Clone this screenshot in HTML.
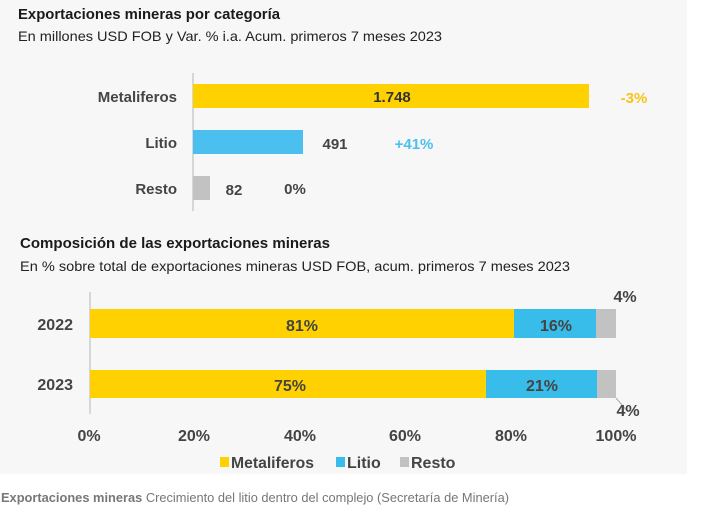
<!DOCTYPE html>
<html><head><meta charset="utf-8"><style>
body{margin:0;background:#fff;}
svg{display:block;font-family:"Liberation Sans",sans-serif;}
</style></head><body>
<svg width="709" height="518" viewBox="0 0 709 518">
<rect x="0" y="0" width="687" height="474" fill="#f7f7f7"/>
<text x="18" y="19" font-size="15" font-weight="bold" fill="#1a1a1a" textLength="262" lengthAdjust="spacingAndGlyphs">Exportaciones mineras por categoría</text>
<text x="18" y="41" font-size="14" fill="#222" textLength="424" lengthAdjust="spacingAndGlyphs">En millones USD FOB y Var. % i.a. Acum. primeros 7 meses 2023</text>
<line x1="193" y1="73" x2="193" y2="211" stroke="#ccc" stroke-width="1.5"/>
<rect x="193" y="84" width="396" height="24" fill="#FFD100"/>
<rect x="193" y="130" width="110" height="24" fill="#4BC0F0"/>
<rect x="193" y="176" width="17" height="24" fill="#c2c2c2"/>
<g font-size="15" font-weight="bold" fill="#444">
<text x="177" y="102" text-anchor="end">Metaliferos</text>
<text x="177" y="148" text-anchor="end">Litio</text>
<text x="177" y="194" text-anchor="end">Resto</text>
<text x="392" y="102" text-anchor="middle" fill="#333">1.748</text>
<text x="335" y="149" text-anchor="middle">491</text>
<text x="234" y="195" text-anchor="middle">82</text>
<text x="295" y="194" text-anchor="middle">0%</text>
<text x="634" y="103" text-anchor="middle" fill="#F5C518">-3%</text>
<text x="414" y="149" text-anchor="middle" fill="#4BC0F0">+41%</text>
</g>
<text x="20" y="248" font-size="15" font-weight="bold" fill="#1a1a1a" textLength="310" lengthAdjust="spacingAndGlyphs">Composición de las exportaciones mineras</text>
<text x="20" y="271" font-size="14" fill="#222" textLength="550" lengthAdjust="spacingAndGlyphs">En % sobre total de exportaciones mineras USD FOB, acum. primeros 7 meses 2023</text>
<line x1="90" y1="292" x2="90" y2="414" stroke="#ccc" stroke-width="1.5"/>
<rect x="90" y="309" width="424" height="29" fill="#FFD100"/>
<rect x="514" y="309" width="82" height="29" fill="#38BDEB"/>
<rect x="596" y="309" width="20" height="29" fill="#c2c2c2"/>
<rect x="90" y="370" width="396" height="28" fill="#FFD100"/>
<rect x="486" y="370" width="111" height="28" fill="#38BDEB"/>
<rect x="597" y="370" width="19" height="28" fill="#c2c2c2"/>
<line x1="616" y1="398" x2="628" y2="412" stroke="#aaa"/>
<g font-size="16" font-weight="bold" fill="#444">
<text x="73" y="330" text-anchor="end">2022</text>
<text x="73" y="390" text-anchor="end">2023</text>
<text x="302" y="331" text-anchor="middle">81%</text>
<text x="556" y="331" text-anchor="middle">16%</text>
<text x="290" y="391" text-anchor="middle">75%</text>
<text x="542" y="391" text-anchor="middle">21%</text>
<text x="625" y="302" text-anchor="middle">4%</text>
<text x="628" y="416" text-anchor="middle">4%</text>
<text x="89" y="441" text-anchor="middle">0%</text>
<text x="194" y="441" text-anchor="middle">20%</text>
<text x="300" y="441" text-anchor="middle">40%</text>
<text x="405" y="441" text-anchor="middle">60%</text>
<text x="511" y="441" text-anchor="middle">80%</text>
<text x="616" y="441" text-anchor="middle">100%</text>
<rect x="220" y="457" width="9" height="10" fill="#FFD100"/>
<text x="231" y="468" textLength="83" lengthAdjust="spacingAndGlyphs">Metaliferos</text>
<rect x="336" y="457" width="9" height="10" fill="#38BDEB"/>
<text x="347" y="468">Litio</text>
<rect x="400" y="457" width="9" height="10" fill="#c2c2c2"/>
<text x="411" y="468">Resto</text>
</g>
<text x="1" y="502" font-size="12.5" fill="#777" textLength="508" lengthAdjust="spacingAndGlyphs"><tspan font-weight="bold">Exportaciones mineras</tspan> Crecimiento del litio dentro del complejo (Secretaría de Minería)</text>
</svg>
</body></html>
